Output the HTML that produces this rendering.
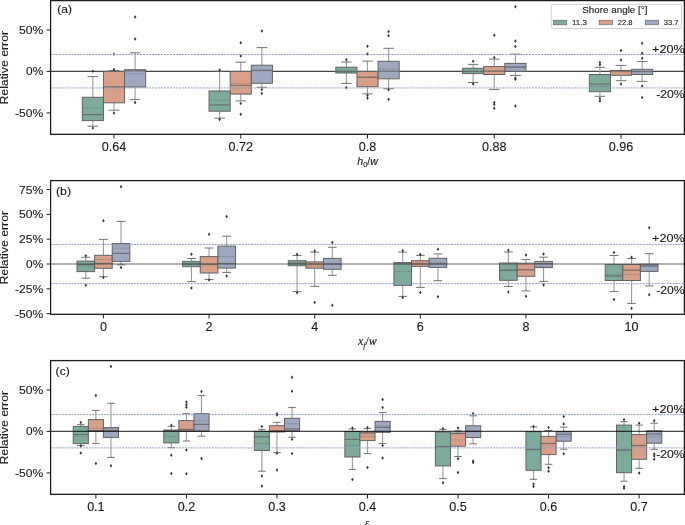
<!DOCTYPE html>
<html><head><meta charset="utf-8"><style>
html,body{margin:0;padding:0;background:#fff;}
body{width:685px;height:525px;overflow:hidden;}
svg{display:block;will-change:transform;}
text{font-family:"Liberation Sans",sans-serif;fill:#1a1a1a;stroke:#1a1a1a;stroke-width:0.12px;}
</style></head><body>
<svg width="685" height="525" viewBox="0 0 685 525">
<rect width="685" height="525" fill="#fff"/>
<line x1="50.6" y1="71.45" x2="684.4" y2="71.45" stroke="#000" stroke-opacity="0.72" stroke-width="1.2"/>
<line x1="92.85" y1="76.6" x2="92.85" y2="97.3" stroke="#9a9a9a" stroke-width="1.1"/>
<line x1="92.85" y1="120.6" x2="92.85" y2="126.2" stroke="#9a9a9a" stroke-width="1.1"/>
<line x1="87.57" y1="76.6" x2="98.13" y2="76.6" stroke="#636363" stroke-width="0.9"/>
<line x1="87.57" y1="126.2" x2="98.13" y2="126.2" stroke="#636363" stroke-width="0.9"/>
<rect x="82.29" y="97.3" width="21.13" height="23.3" fill="#7daa9b" stroke="#636363" stroke-width="1"/>
<line x1="82.29" y1="114.6" x2="103.42" y2="114.6" stroke="#5a5a5a" stroke-width="1.2" stroke-opacity="0.7"/>
<line x1="83.09" y1="108.3" x2="103.42" y2="108.3" stroke="#5a5a5a" stroke-width="0.8" stroke-dasharray="2 1.3" stroke-opacity="0.5"/>
<path d="M92.85 69.55l1.25 1.75l-1.25 1.75l-1.25 -1.75z" fill="#333"/>
<path d="M92.85 126.25l1.25 1.75l-1.25 1.75l-1.25 -1.75z" fill="#333"/>
<line x1="113.98" y1="70.6" x2="113.98" y2="71.4" stroke="#9a9a9a" stroke-width="1.1"/>
<line x1="113.98" y1="102.8" x2="113.98" y2="110.2" stroke="#9a9a9a" stroke-width="1.1"/>
<line x1="108.7" y1="70.6" x2="119.26" y2="70.6" stroke="#636363" stroke-width="0.9"/>
<line x1="108.7" y1="110.2" x2="119.26" y2="110.2" stroke="#636363" stroke-width="0.9"/>
<rect x="103.42" y="71.4" width="21.13" height="31.4" fill="#d8a08a" stroke="#636363" stroke-width="1"/>
<line x1="103.42" y1="86.8" x2="124.54" y2="86.8" stroke="#5a5a5a" stroke-width="1.2" stroke-opacity="0.7"/>
<line x1="104.22" y1="87.5" x2="124.54" y2="87.5" stroke="#5a5a5a" stroke-width="0.8" stroke-dasharray="2 1.3" stroke-opacity="0.5"/>
<path d="M113.98 52.55l1.25 1.75l-1.25 1.75l-1.25 -1.75z" fill="#333"/>
<path d="M113.98 67.85l1.25 1.75l-1.25 1.75l-1.25 -1.75z" fill="#333"/>
<path d="M113.98 111.35l1.25 1.75l-1.25 1.75l-1.25 -1.75z" fill="#333"/>
<line x1="135.11" y1="52.8" x2="135.11" y2="69.7" stroke="#9a9a9a" stroke-width="1.1"/>
<line x1="135.11" y1="87" x2="135.11" y2="99.6" stroke="#9a9a9a" stroke-width="1.1"/>
<line x1="129.82" y1="52.8" x2="140.39" y2="52.8" stroke="#636363" stroke-width="0.9"/>
<line x1="129.82" y1="99.6" x2="140.39" y2="99.6" stroke="#636363" stroke-width="0.9"/>
<rect x="124.54" y="69.7" width="21.13" height="17.3" fill="#9fa8bf" stroke="#636363" stroke-width="1"/>
<line x1="124.54" y1="70.8" x2="145.67" y2="70.8" stroke="#5a5a5a" stroke-width="1.2" stroke-opacity="0.7"/>
<line x1="125.34" y1="73.9" x2="145.67" y2="73.9" stroke="#5a5a5a" stroke-width="0.8" stroke-dasharray="2 1.3" stroke-opacity="0.5"/>
<path d="M135.11 37.25l1.25 1.75l-1.25 1.75l-1.25 -1.75z" fill="#333"/>
<path d="M135.11 15.35l1.25 1.75l-1.25 1.75l-1.25 -1.75z" fill="#333"/>
<path d="M135.11 100.65l1.25 1.75l-1.25 1.75l-1.25 -1.75z" fill="#333"/>
<line x1="219.61" y1="71.3" x2="219.61" y2="91" stroke="#9a9a9a" stroke-width="1.1"/>
<line x1="219.61" y1="111.2" x2="219.61" y2="118.2" stroke="#9a9a9a" stroke-width="1.1"/>
<line x1="214.33" y1="71.3" x2="224.89" y2="71.3" stroke="#636363" stroke-width="0.9"/>
<line x1="214.33" y1="118.2" x2="224.89" y2="118.2" stroke="#636363" stroke-width="0.9"/>
<rect x="209.05" y="91" width="21.13" height="20.2" fill="#7daa9b" stroke="#636363" stroke-width="1"/>
<line x1="209.05" y1="104.9" x2="230.18" y2="104.9" stroke="#5a5a5a" stroke-width="1.2" stroke-opacity="0.7"/>
<line x1="209.85" y1="100.3" x2="230.18" y2="100.3" stroke="#5a5a5a" stroke-width="0.8" stroke-dasharray="2 1.3" stroke-opacity="0.5"/>
<path d="M219.61 68.15l1.25 1.75l-1.25 1.75l-1.25 -1.75z" fill="#333"/>
<path d="M219.61 117.75l1.25 1.75l-1.25 1.75l-1.25 -1.75z" fill="#333"/>
<line x1="240.74" y1="62.2" x2="240.74" y2="71.5" stroke="#9a9a9a" stroke-width="1.1"/>
<line x1="240.74" y1="94.1" x2="240.74" y2="100.9" stroke="#9a9a9a" stroke-width="1.1"/>
<line x1="235.46" y1="62.2" x2="246.02" y2="62.2" stroke="#636363" stroke-width="0.9"/>
<line x1="235.46" y1="100.9" x2="246.02" y2="100.9" stroke="#636363" stroke-width="0.9"/>
<rect x="230.18" y="71.5" width="21.13" height="22.6" fill="#d8a08a" stroke="#636363" stroke-width="1"/>
<line x1="230.18" y1="85.4" x2="251.3" y2="85.4" stroke="#5a5a5a" stroke-width="1.2" stroke-opacity="0.7"/>
<line x1="230.98" y1="83.5" x2="251.3" y2="83.5" stroke="#5a5a5a" stroke-width="0.8" stroke-dasharray="2 1.3" stroke-opacity="0.5"/>
<path d="M240.74 54.15l1.25 1.75l-1.25 1.75l-1.25 -1.75z" fill="#333"/>
<path d="M240.74 41.05l1.25 1.75l-1.25 1.75l-1.25 -1.75z" fill="#333"/>
<path d="M240.74 101.85l1.25 1.75l-1.25 1.75l-1.25 -1.75z" fill="#333"/>
<path d="M240.74 112.45l1.25 1.75l-1.25 1.75l-1.25 -1.75z" fill="#333"/>
<line x1="261.87" y1="47.6" x2="261.87" y2="65.2" stroke="#9a9a9a" stroke-width="1.1"/>
<line x1="261.87" y1="83.3" x2="261.87" y2="87.3" stroke="#9a9a9a" stroke-width="1.1"/>
<line x1="256.59" y1="47.6" x2="267.15" y2="47.6" stroke="#636363" stroke-width="0.9"/>
<line x1="256.59" y1="87.3" x2="267.15" y2="87.3" stroke="#636363" stroke-width="0.9"/>
<rect x="251.3" y="65.2" width="21.13" height="18.1" fill="#9fa8bf" stroke="#636363" stroke-width="1"/>
<line x1="251.3" y1="70.3" x2="272.43" y2="70.3" stroke="#5a5a5a" stroke-width="1.2" stroke-opacity="0.7"/>
<line x1="252.1" y1="70.9" x2="272.43" y2="70.9" stroke="#5a5a5a" stroke-width="0.8" stroke-dasharray="2 1.3" stroke-opacity="0.5"/>
<path d="M261.87 29.15l1.25 1.75l-1.25 1.75l-1.25 -1.75z" fill="#333"/>
<path d="M261.87 87.65l1.25 1.75l-1.25 1.75l-1.25 -1.75z" fill="#333"/>
<path d="M261.87 91.75l1.25 1.75l-1.25 1.75l-1.25 -1.75z" fill="#333"/>
<line x1="346.37" y1="62" x2="346.37" y2="67.2" stroke="#9a9a9a" stroke-width="1.1"/>
<line x1="346.37" y1="73" x2="346.37" y2="83.4" stroke="#9a9a9a" stroke-width="1.1"/>
<line x1="341.09" y1="62" x2="351.65" y2="62" stroke="#636363" stroke-width="0.9"/>
<line x1="341.09" y1="83.4" x2="351.65" y2="83.4" stroke="#636363" stroke-width="0.9"/>
<rect x="335.81" y="67.2" width="21.13" height="5.8" fill="#7daa9b" stroke="#636363" stroke-width="1"/>
<line x1="335.81" y1="71.5" x2="356.94" y2="71.5" stroke="#5a5a5a" stroke-width="1.2" stroke-opacity="0.7"/>
<line x1="336.61" y1="70.7" x2="356.94" y2="70.7" stroke="#5a5a5a" stroke-width="0.8" stroke-dasharray="2 1.3" stroke-opacity="0.5"/>
<path d="M346.37 58.05l1.25 1.75l-1.25 1.75l-1.25 -1.75z" fill="#333"/>
<path d="M346.37 85.75l1.25 1.75l-1.25 1.75l-1.25 -1.75z" fill="#333"/>
<line x1="367.5" y1="61.1" x2="367.5" y2="71.5" stroke="#9a9a9a" stroke-width="1.1"/>
<line x1="367.5" y1="86.7" x2="367.5" y2="93.9" stroke="#9a9a9a" stroke-width="1.1"/>
<line x1="362.22" y1="61.1" x2="372.78" y2="61.1" stroke="#636363" stroke-width="0.9"/>
<line x1="362.22" y1="93.9" x2="372.78" y2="93.9" stroke="#636363" stroke-width="0.9"/>
<rect x="356.94" y="71.5" width="21.13" height="15.2" fill="#d8a08a" stroke="#636363" stroke-width="1"/>
<line x1="356.94" y1="77.3" x2="378.06" y2="77.3" stroke="#5a5a5a" stroke-width="1.2" stroke-opacity="0.7"/>
<line x1="357.74" y1="77" x2="378.06" y2="77" stroke="#5a5a5a" stroke-width="0.8" stroke-dasharray="2 1.3" stroke-opacity="0.5"/>
<path d="M367.5 52.25l1.25 1.75l-1.25 1.75l-1.25 -1.75z" fill="#333"/>
<path d="M367.5 44.55l1.25 1.75l-1.25 1.75l-1.25 -1.75z" fill="#333"/>
<path d="M367.5 93.75l1.25 1.75l-1.25 1.75l-1.25 -1.75z" fill="#333"/>
<path d="M367.5 96.45l1.25 1.75l-1.25 1.75l-1.25 -1.75z" fill="#333"/>
<line x1="388.63" y1="48.3" x2="388.63" y2="61.3" stroke="#9a9a9a" stroke-width="1.1"/>
<line x1="388.63" y1="78.8" x2="388.63" y2="88.7" stroke="#9a9a9a" stroke-width="1.1"/>
<line x1="383.35" y1="48.3" x2="393.91" y2="48.3" stroke="#636363" stroke-width="0.9"/>
<line x1="383.35" y1="88.7" x2="393.91" y2="88.7" stroke="#636363" stroke-width="0.9"/>
<rect x="378.06" y="61.3" width="21.13" height="17.5" fill="#9fa8bf" stroke="#636363" stroke-width="1"/>
<line x1="378.06" y1="71.2" x2="399.19" y2="71.2" stroke="#5a5a5a" stroke-width="1.2" stroke-opacity="0.7"/>
<line x1="378.86" y1="69.2" x2="399.19" y2="69.2" stroke="#5a5a5a" stroke-width="0.8" stroke-dasharray="2 1.3" stroke-opacity="0.5"/>
<path d="M388.63 33.95l1.25 1.75l-1.25 1.75l-1.25 -1.75z" fill="#333"/>
<path d="M388.63 29.65l1.25 1.75l-1.25 1.75l-1.25 -1.75z" fill="#333"/>
<path d="M388.63 88.05l1.25 1.75l-1.25 1.75l-1.25 -1.75z" fill="#333"/>
<path d="M388.63 97.45l1.25 1.75l-1.25 1.75l-1.25 -1.75z" fill="#333"/>
<line x1="473.13" y1="64.4" x2="473.13" y2="68.3" stroke="#9a9a9a" stroke-width="1.1"/>
<line x1="473.13" y1="73.6" x2="473.13" y2="82.5" stroke="#9a9a9a" stroke-width="1.1"/>
<line x1="467.85" y1="64.4" x2="478.41" y2="64.4" stroke="#636363" stroke-width="0.9"/>
<line x1="467.85" y1="82.5" x2="478.41" y2="82.5" stroke="#636363" stroke-width="0.9"/>
<rect x="462.57" y="68.3" width="21.13" height="5.3" fill="#7daa9b" stroke="#636363" stroke-width="1"/>
<line x1="462.57" y1="71.45" x2="483.7" y2="71.45" stroke="#5a5a5a" stroke-width="1.2" stroke-opacity="0.7"/>
<line x1="463.37" y1="71.3" x2="483.7" y2="71.3" stroke="#5a5a5a" stroke-width="0.8" stroke-dasharray="2 1.3" stroke-opacity="0.5"/>
<path d="M473.13 59.55l1.25 1.75l-1.25 1.75l-1.25 -1.75z" fill="#333"/>
<path d="M473.13 82.15l1.25 1.75l-1.25 1.75l-1.25 -1.75z" fill="#333"/>
<line x1="494.26" y1="59.1" x2="494.26" y2="66.6" stroke="#9a9a9a" stroke-width="1.1"/>
<line x1="494.26" y1="74.5" x2="494.26" y2="89.4" stroke="#9a9a9a" stroke-width="1.1"/>
<line x1="488.98" y1="59.1" x2="499.54" y2="59.1" stroke="#636363" stroke-width="0.9"/>
<line x1="488.98" y1="89.4" x2="499.54" y2="89.4" stroke="#636363" stroke-width="0.9"/>
<rect x="483.7" y="66.6" width="21.13" height="7.9" fill="#d8a08a" stroke="#636363" stroke-width="1"/>
<line x1="483.7" y1="71.3" x2="504.82" y2="71.3" stroke="#5a5a5a" stroke-width="1.2" stroke-opacity="0.7"/>
<line x1="484.5" y1="70.4" x2="504.82" y2="70.4" stroke="#5a5a5a" stroke-width="0.8" stroke-dasharray="2 1.3" stroke-opacity="0.5"/>
<path d="M494.26 55.85l1.25 1.75l-1.25 1.75l-1.25 -1.75z" fill="#333"/>
<path d="M494.26 33.45l1.25 1.75l-1.25 1.75l-1.25 -1.75z" fill="#333"/>
<path d="M494.26 100.85l1.25 1.75l-1.25 1.75l-1.25 -1.75z" fill="#333"/>
<path d="M494.26 102.75l1.25 1.75l-1.25 1.75l-1.25 -1.75z" fill="#333"/>
<path d="M494.26 106.55l1.25 1.75l-1.25 1.75l-1.25 -1.75z" fill="#333"/>
<line x1="515.39" y1="54.1" x2="515.39" y2="63.4" stroke="#9a9a9a" stroke-width="1.1"/>
<line x1="515.39" y1="71.3" x2="515.39" y2="75.5" stroke="#9a9a9a" stroke-width="1.1"/>
<line x1="510.11" y1="54.1" x2="520.67" y2="54.1" stroke="#636363" stroke-width="0.9"/>
<line x1="510.11" y1="75.5" x2="520.67" y2="75.5" stroke="#636363" stroke-width="0.9"/>
<rect x="504.82" y="63.4" width="21.13" height="7.9" fill="#9fa8bf" stroke="#636363" stroke-width="1"/>
<line x1="504.82" y1="67.3" x2="525.95" y2="67.3" stroke="#5a5a5a" stroke-width="1.2" stroke-opacity="0.7"/>
<line x1="505.62" y1="66.4" x2="525.95" y2="66.4" stroke="#5a5a5a" stroke-width="0.8" stroke-dasharray="2 1.3" stroke-opacity="0.5"/>
<path d="M515.39 44.75l1.25 1.75l-1.25 1.75l-1.25 -1.75z" fill="#333"/>
<path d="M515.39 39.25l1.25 1.75l-1.25 1.75l-1.25 -1.75z" fill="#333"/>
<path d="M515.39 4.95l1.25 1.75l-1.25 1.75l-1.25 -1.75z" fill="#333"/>
<path d="M515.39 76.25l1.25 1.75l-1.25 1.75l-1.25 -1.75z" fill="#333"/>
<path d="M515.39 77.45l1.25 1.75l-1.25 1.75l-1.25 -1.75z" fill="#333"/>
<path d="M515.39 104.25l1.25 1.75l-1.25 1.75l-1.25 -1.75z" fill="#333"/>
<line x1="599.89" y1="67.3" x2="599.89" y2="74.5" stroke="#9a9a9a" stroke-width="1.1"/>
<line x1="599.89" y1="91.7" x2="599.89" y2="96.3" stroke="#9a9a9a" stroke-width="1.1"/>
<line x1="594.61" y1="67.3" x2="605.17" y2="67.3" stroke="#636363" stroke-width="0.9"/>
<line x1="594.61" y1="96.3" x2="605.17" y2="96.3" stroke="#636363" stroke-width="0.9"/>
<rect x="589.33" y="74.5" width="21.13" height="17.2" fill="#7daa9b" stroke="#636363" stroke-width="1"/>
<line x1="589.33" y1="84.1" x2="610.46" y2="84.1" stroke="#5a5a5a" stroke-width="1.2" stroke-opacity="0.7"/>
<line x1="590.13" y1="86.5" x2="610.46" y2="86.5" stroke="#5a5a5a" stroke-width="0.8" stroke-dasharray="2 1.3" stroke-opacity="0.5"/>
<path d="M599.89 62.95l1.25 1.75l-1.25 1.75l-1.25 -1.75z" fill="#333"/>
<path d="M599.89 60.75l1.25 1.75l-1.25 1.75l-1.25 -1.75z" fill="#333"/>
<path d="M599.89 96.85l1.25 1.75l-1.25 1.75l-1.25 -1.75z" fill="#333"/>
<path d="M599.89 99.15l1.25 1.75l-1.25 1.75l-1.25 -1.75z" fill="#333"/>
<line x1="621.02" y1="65.4" x2="621.02" y2="70.4" stroke="#9a9a9a" stroke-width="1.1"/>
<line x1="621.02" y1="75.3" x2="621.02" y2="80.7" stroke="#9a9a9a" stroke-width="1.1"/>
<line x1="615.74" y1="65.4" x2="626.3" y2="65.4" stroke="#636363" stroke-width="0.9"/>
<line x1="615.74" y1="80.7" x2="626.3" y2="80.7" stroke="#636363" stroke-width="0.9"/>
<rect x="610.46" y="70.4" width="21.13" height="4.9" fill="#d8a08a" stroke="#636363" stroke-width="1"/>
<line x1="610.46" y1="71.1" x2="631.58" y2="71.1" stroke="#5a5a5a" stroke-width="1.2" stroke-opacity="0.7"/>
<line x1="611.26" y1="71.8" x2="631.58" y2="71.8" stroke="#5a5a5a" stroke-width="0.8" stroke-dasharray="2 1.3" stroke-opacity="0.5"/>
<path d="M621.02 58.25l1.25 1.75l-1.25 1.75l-1.25 -1.75z" fill="#333"/>
<path d="M621.02 48.85l1.25 1.75l-1.25 1.75l-1.25 -1.75z" fill="#333"/>
<path d="M621.02 82.35l1.25 1.75l-1.25 1.75l-1.25 -1.75z" fill="#333"/>
<line x1="642.15" y1="61.5" x2="642.15" y2="69.3" stroke="#9a9a9a" stroke-width="1.1"/>
<line x1="642.15" y1="74.5" x2="642.15" y2="81.4" stroke="#9a9a9a" stroke-width="1.1"/>
<line x1="636.87" y1="61.5" x2="647.43" y2="61.5" stroke="#636363" stroke-width="0.9"/>
<line x1="636.87" y1="81.4" x2="647.43" y2="81.4" stroke="#636363" stroke-width="0.9"/>
<rect x="631.58" y="69.3" width="21.13" height="5.2" fill="#9fa8bf" stroke="#636363" stroke-width="1"/>
<line x1="631.58" y1="71.6" x2="652.71" y2="71.6" stroke="#5a5a5a" stroke-width="1.2" stroke-opacity="0.7"/>
<line x1="632.38" y1="70.8" x2="652.71" y2="70.8" stroke="#5a5a5a" stroke-width="0.8" stroke-dasharray="2 1.3" stroke-opacity="0.5"/>
<path d="M642.15 56.45l1.25 1.75l-1.25 1.75l-1.25 -1.75z" fill="#333"/>
<path d="M642.15 51.45l1.25 1.75l-1.25 1.75l-1.25 -1.75z" fill="#333"/>
<path d="M642.15 41.55l1.25 1.75l-1.25 1.75l-1.25 -1.75z" fill="#333"/>
<path d="M642.15 84.15l1.25 1.75l-1.25 1.75l-1.25 -1.75z" fill="#333"/>
<path d="M642.15 95.65l1.25 1.75l-1.25 1.75l-1.25 -1.75z" fill="#333"/>
<line x1="50.6" y1="54.5" x2="684.4" y2="54.5" stroke="#8e9dc0" stroke-width="1.0" stroke-dasharray="1.95 1.042" stroke-dashoffset="0.27"/>
<line x1="50.6" y1="87.95" x2="684.4" y2="87.95" stroke="#8e9dc0" stroke-width="1.0" stroke-dasharray="1.95 1.042" stroke-dashoffset="0.27"/>
<rect x="50.6" y="0.6" width="633.8" height="133.7" fill="none" stroke="#1c1c1c" stroke-width="1.3"/>
<line x1="46.6" y1="30.03" x2="50.6" y2="30.03" stroke="#1c1c1c" stroke-width="1"/>
<text x="43.2" y="34.03" font-size="11.3" text-anchor="end" textLength="24.15" lengthAdjust="spacingAndGlyphs">50%</text>
<line x1="46.6" y1="71.45" x2="50.6" y2="71.45" stroke="#1c1c1c" stroke-width="1"/>
<text x="43.2" y="75.45" font-size="11.3" text-anchor="end" textLength="17.15" lengthAdjust="spacingAndGlyphs">0%</text>
<line x1="46.6" y1="112.88" x2="50.6" y2="112.88" stroke="#1c1c1c" stroke-width="1"/>
<text x="43.2" y="116.88" font-size="11.3" text-anchor="end" textLength="28.12" lengthAdjust="spacingAndGlyphs">-50%</text>
<line x1="113.98" y1="134.3" x2="113.98" y2="138.5" stroke="#1c1c1c" stroke-width="1"/>
<text x="113.98" y="150.5" font-size="11.9" text-anchor="middle" textLength="24.49" lengthAdjust="spacingAndGlyphs">0.64</text>
<line x1="240.74" y1="134.3" x2="240.74" y2="138.5" stroke="#1c1c1c" stroke-width="1"/>
<text x="240.74" y="150.5" font-size="11.9" text-anchor="middle" textLength="24.49" lengthAdjust="spacingAndGlyphs">0.72</text>
<line x1="367.5" y1="134.3" x2="367.5" y2="138.5" stroke="#1c1c1c" stroke-width="1"/>
<text x="367.5" y="150.5" font-size="11.9" text-anchor="middle" textLength="17.49" lengthAdjust="spacingAndGlyphs">0.8</text>
<line x1="494.26" y1="134.3" x2="494.26" y2="138.5" stroke="#1c1c1c" stroke-width="1"/>
<text x="494.26" y="150.5" font-size="11.9" text-anchor="middle" textLength="24.49" lengthAdjust="spacingAndGlyphs">0.88</text>
<line x1="621.02" y1="134.3" x2="621.02" y2="138.5" stroke="#1c1c1c" stroke-width="1"/>
<text x="621.02" y="150.5" font-size="11.9" text-anchor="middle" textLength="24.49" lengthAdjust="spacingAndGlyphs">0.96</text>
<text x="57.2" y="13" font-size="11.2" text-anchor="start" textLength="14.82" lengthAdjust="spacingAndGlyphs">(a)</text>
<text x="684.7" y="52.58" font-size="11.3" text-anchor="end" textLength="32.67" lengthAdjust="spacingAndGlyphs">+20%</text>
<text x="684.7" y="98.32" font-size="11.3" text-anchor="end" textLength="28.42" lengthAdjust="spacingAndGlyphs">-20%</text>
<text transform="translate(8.4 67.75) rotate(-90)" font-size="11.1" text-anchor="middle" textLength="73.6" lengthAdjust="spacingAndGlyphs">Relative error</text>
<line x1="85.81" y1="257.3" x2="85.81" y2="261.1" stroke="#9a9a9a" stroke-width="1.1"/>
<line x1="85.81" y1="271.6" x2="85.81" y2="278.2" stroke="#9a9a9a" stroke-width="1.1"/>
<line x1="81.41" y1="257.3" x2="90.21" y2="257.3" stroke="#636363" stroke-width="0.9"/>
<line x1="81.41" y1="278.2" x2="90.21" y2="278.2" stroke="#636363" stroke-width="0.9"/>
<rect x="77.01" y="261.1" width="17.61" height="10.5" fill="#7daa9b" stroke="#636363" stroke-width="1"/>
<line x1="77.01" y1="264.5" x2="94.61" y2="264.5" stroke="#5a5a5a" stroke-width="1.2" stroke-opacity="0.7"/>
<line x1="77.81" y1="266" x2="94.61" y2="266" stroke="#5a5a5a" stroke-width="0.8" stroke-dasharray="2 1.3" stroke-opacity="0.5"/>
<path d="M85.81 254.05l1.25 1.75l-1.25 1.75l-1.25 -1.75z" fill="#333"/>
<path d="M85.81 283.55l1.25 1.75l-1.25 1.75l-1.25 -1.75z" fill="#333"/>
<line x1="103.42" y1="239.4" x2="103.42" y2="255.3" stroke="#9a9a9a" stroke-width="1.1"/>
<line x1="103.42" y1="268.3" x2="103.42" y2="276.7" stroke="#9a9a9a" stroke-width="1.1"/>
<line x1="99.02" y1="239.4" x2="107.82" y2="239.4" stroke="#636363" stroke-width="0.9"/>
<line x1="99.02" y1="276.7" x2="107.82" y2="276.7" stroke="#636363" stroke-width="0.9"/>
<rect x="94.61" y="255.3" width="17.61" height="13" fill="#d8a08a" stroke="#636363" stroke-width="1"/>
<line x1="94.61" y1="263.4" x2="112.22" y2="263.4" stroke="#5a5a5a" stroke-width="1.2" stroke-opacity="0.7"/>
<line x1="95.41" y1="259.5" x2="112.22" y2="259.5" stroke="#5a5a5a" stroke-width="0.8" stroke-dasharray="2 1.3" stroke-opacity="0.5"/>
<path d="M103.42 219.05l1.25 1.75l-1.25 1.75l-1.25 -1.75z" fill="#333"/>
<path d="M103.42 275.65l1.25 1.75l-1.25 1.75l-1.25 -1.75z" fill="#333"/>
<line x1="121.02" y1="221.4" x2="121.02" y2="243.6" stroke="#9a9a9a" stroke-width="1.1"/>
<line x1="121.02" y1="261.4" x2="121.02" y2="264.8" stroke="#9a9a9a" stroke-width="1.1"/>
<line x1="116.62" y1="221.4" x2="125.42" y2="221.4" stroke="#636363" stroke-width="0.9"/>
<line x1="116.62" y1="264.8" x2="125.42" y2="264.8" stroke="#636363" stroke-width="0.9"/>
<rect x="112.22" y="243.6" width="17.61" height="17.8" fill="#9fa8bf" stroke="#636363" stroke-width="1"/>
<line x1="112.22" y1="253.4" x2="129.82" y2="253.4" stroke="#5a5a5a" stroke-width="1.2" stroke-opacity="0.7"/>
<line x1="113.02" y1="248.2" x2="129.82" y2="248.2" stroke="#5a5a5a" stroke-width="0.8" stroke-dasharray="2 1.3" stroke-opacity="0.5"/>
<path d="M121.02 184.95l1.25 1.75l-1.25 1.75l-1.25 -1.75z" fill="#333"/>
<path d="M121.02 265.75l1.25 1.75l-1.25 1.75l-1.25 -1.75z" fill="#333"/>
<line x1="191.44" y1="258.5" x2="191.44" y2="261.4" stroke="#9a9a9a" stroke-width="1.1"/>
<line x1="191.44" y1="266.7" x2="191.44" y2="281.6" stroke="#9a9a9a" stroke-width="1.1"/>
<line x1="187.04" y1="258.5" x2="195.85" y2="258.5" stroke="#636363" stroke-width="0.9"/>
<line x1="187.04" y1="281.6" x2="195.85" y2="281.6" stroke="#636363" stroke-width="0.9"/>
<rect x="182.64" y="261.4" width="17.61" height="5.3" fill="#7daa9b" stroke="#636363" stroke-width="1"/>
<line x1="182.64" y1="264" x2="200.25" y2="264" stroke="#5a5a5a" stroke-width="1.2" stroke-opacity="0.7"/>
<line x1="183.44" y1="264.4" x2="200.25" y2="264.4" stroke="#5a5a5a" stroke-width="0.8" stroke-dasharray="2 1.3" stroke-opacity="0.5"/>
<path d="M191.44 252.55l1.25 1.75l-1.25 1.75l-1.25 -1.75z" fill="#333"/>
<path d="M191.44 286.35l1.25 1.75l-1.25 1.75l-1.25 -1.75z" fill="#333"/>
<line x1="209.05" y1="248" x2="209.05" y2="256.6" stroke="#9a9a9a" stroke-width="1.1"/>
<line x1="209.05" y1="273" x2="209.05" y2="279.5" stroke="#9a9a9a" stroke-width="1.1"/>
<line x1="204.65" y1="248" x2="213.45" y2="248" stroke="#636363" stroke-width="0.9"/>
<line x1="204.65" y1="279.5" x2="213.45" y2="279.5" stroke="#636363" stroke-width="0.9"/>
<rect x="200.25" y="256.6" width="17.61" height="16.4" fill="#d8a08a" stroke="#636363" stroke-width="1"/>
<line x1="200.25" y1="264.2" x2="217.85" y2="264.2" stroke="#5a5a5a" stroke-width="1.2" stroke-opacity="0.7"/>
<line x1="201.05" y1="264.8" x2="217.85" y2="264.8" stroke="#5a5a5a" stroke-width="0.8" stroke-dasharray="2 1.3" stroke-opacity="0.5"/>
<path d="M209.05 232.55l1.25 1.75l-1.25 1.75l-1.25 -1.75z" fill="#333"/>
<path d="M209.05 278.25l1.25 1.75l-1.25 1.75l-1.25 -1.75z" fill="#333"/>
<line x1="226.66" y1="236.2" x2="226.66" y2="246.1" stroke="#9a9a9a" stroke-width="1.1"/>
<line x1="226.66" y1="268.1" x2="226.66" y2="272.4" stroke="#9a9a9a" stroke-width="1.1"/>
<line x1="222.25" y1="236.2" x2="231.06" y2="236.2" stroke="#636363" stroke-width="0.9"/>
<line x1="222.25" y1="272.4" x2="231.06" y2="272.4" stroke="#636363" stroke-width="0.9"/>
<rect x="217.85" y="246.1" width="17.61" height="22" fill="#9fa8bf" stroke="#636363" stroke-width="1"/>
<line x1="217.85" y1="263.5" x2="235.46" y2="263.5" stroke="#5a5a5a" stroke-width="1.2" stroke-opacity="0.7"/>
<line x1="218.65" y1="256.6" x2="235.46" y2="256.6" stroke="#5a5a5a" stroke-width="0.8" stroke-dasharray="2 1.3" stroke-opacity="0.5"/>
<path d="M226.66 214.85l1.25 1.75l-1.25 1.75l-1.25 -1.75z" fill="#333"/>
<path d="M226.66 274.15l1.25 1.75l-1.25 1.75l-1.25 -1.75z" fill="#333"/>
<line x1="297.08" y1="255.5" x2="297.08" y2="260.7" stroke="#9a9a9a" stroke-width="1.1"/>
<line x1="297.08" y1="265.7" x2="297.08" y2="291.6" stroke="#9a9a9a" stroke-width="1.1"/>
<line x1="292.68" y1="255.5" x2="301.48" y2="255.5" stroke="#636363" stroke-width="0.9"/>
<line x1="292.68" y1="291.6" x2="301.48" y2="291.6" stroke="#636363" stroke-width="0.9"/>
<rect x="288.27" y="260.7" width="17.61" height="5" fill="#7daa9b" stroke="#636363" stroke-width="1"/>
<line x1="288.27" y1="263.1" x2="305.88" y2="263.1" stroke="#5a5a5a" stroke-width="1.2" stroke-opacity="0.7"/>
<line x1="289.07" y1="263.9" x2="305.88" y2="263.9" stroke="#5a5a5a" stroke-width="0.8" stroke-dasharray="2 1.3" stroke-opacity="0.5"/>
<path d="M297.08 252.45l1.25 1.75l-1.25 1.75l-1.25 -1.75z" fill="#333"/>
<path d="M297.08 291.05l1.25 1.75l-1.25 1.75l-1.25 -1.75z" fill="#333"/>
<line x1="314.68" y1="252.1" x2="314.68" y2="261.9" stroke="#9a9a9a" stroke-width="1.1"/>
<line x1="314.68" y1="268.2" x2="314.68" y2="286.4" stroke="#9a9a9a" stroke-width="1.1"/>
<line x1="310.28" y1="252.1" x2="319.08" y2="252.1" stroke="#636363" stroke-width="0.9"/>
<line x1="310.28" y1="286.4" x2="319.08" y2="286.4" stroke="#636363" stroke-width="0.9"/>
<rect x="305.88" y="261.9" width="17.61" height="6.3" fill="#d8a08a" stroke="#636363" stroke-width="1"/>
<line x1="305.88" y1="264.1" x2="323.49" y2="264.1" stroke="#5a5a5a" stroke-width="1.2" stroke-opacity="0.7"/>
<line x1="306.68" y1="266.2" x2="323.49" y2="266.2" stroke="#5a5a5a" stroke-width="0.8" stroke-dasharray="2 1.3" stroke-opacity="0.5"/>
<path d="M314.68 249.35l1.25 1.75l-1.25 1.75l-1.25 -1.75z" fill="#333"/>
<path d="M314.68 300.75l1.25 1.75l-1.25 1.75l-1.25 -1.75z" fill="#333"/>
<line x1="332.29" y1="247.3" x2="332.29" y2="258.4" stroke="#9a9a9a" stroke-width="1.1"/>
<line x1="332.29" y1="269.3" x2="332.29" y2="275.3" stroke="#9a9a9a" stroke-width="1.1"/>
<line x1="327.89" y1="247.3" x2="336.69" y2="247.3" stroke="#636363" stroke-width="0.9"/>
<line x1="327.89" y1="275.3" x2="336.69" y2="275.3" stroke="#636363" stroke-width="0.9"/>
<rect x="323.49" y="258.4" width="17.61" height="10.9" fill="#9fa8bf" stroke="#636363" stroke-width="1"/>
<line x1="323.49" y1="264.1" x2="341.09" y2="264.1" stroke="#5a5a5a" stroke-width="1.2" stroke-opacity="0.7"/>
<line x1="324.29" y1="263.6" x2="341.09" y2="263.6" stroke="#5a5a5a" stroke-width="0.8" stroke-dasharray="2 1.3" stroke-opacity="0.5"/>
<path d="M332.29 240.75l1.25 1.75l-1.25 1.75l-1.25 -1.75z" fill="#333"/>
<path d="M332.29 303.55l1.25 1.75l-1.25 1.75l-1.25 -1.75z" fill="#333"/>
<line x1="402.71" y1="252.1" x2="402.71" y2="262.6" stroke="#9a9a9a" stroke-width="1.1"/>
<line x1="402.71" y1="285.4" x2="402.71" y2="296.4" stroke="#9a9a9a" stroke-width="1.1"/>
<line x1="398.31" y1="252.1" x2="407.11" y2="252.1" stroke="#636363" stroke-width="0.9"/>
<line x1="398.31" y1="296.4" x2="407.11" y2="296.4" stroke="#636363" stroke-width="0.9"/>
<rect x="393.91" y="262.6" width="17.61" height="22.8" fill="#7daa9b" stroke="#636363" stroke-width="1"/>
<line x1="393.91" y1="263.9" x2="411.51" y2="263.9" stroke="#5a5a5a" stroke-width="1.2" stroke-opacity="0.7"/>
<line x1="394.71" y1="271.7" x2="411.51" y2="271.7" stroke="#5a5a5a" stroke-width="0.8" stroke-dasharray="2 1.3" stroke-opacity="0.5"/>
<path d="M402.71 248.95l1.25 1.75l-1.25 1.75l-1.25 -1.75z" fill="#333"/>
<path d="M402.71 295.65l1.25 1.75l-1.25 1.75l-1.25 -1.75z" fill="#333"/>
<line x1="420.32" y1="255.4" x2="420.32" y2="260.7" stroke="#9a9a9a" stroke-width="1.1"/>
<line x1="420.32" y1="266.4" x2="420.32" y2="287.4" stroke="#9a9a9a" stroke-width="1.1"/>
<line x1="415.92" y1="255.4" x2="424.72" y2="255.4" stroke="#636363" stroke-width="0.9"/>
<line x1="415.92" y1="287.4" x2="424.72" y2="287.4" stroke="#636363" stroke-width="0.9"/>
<rect x="411.51" y="260.7" width="17.61" height="5.7" fill="#d8a08a" stroke="#636363" stroke-width="1"/>
<line x1="411.51" y1="264" x2="429.12" y2="264" stroke="#5a5a5a" stroke-width="1.2" stroke-opacity="0.7"/>
<line x1="412.31" y1="263.1" x2="429.12" y2="263.1" stroke="#5a5a5a" stroke-width="0.8" stroke-dasharray="2 1.3" stroke-opacity="0.5"/>
<path d="M420.32 252.85l1.25 1.75l-1.25 1.75l-1.25 -1.75z" fill="#333"/>
<path d="M420.32 290.65l1.25 1.75l-1.25 1.75l-1.25 -1.75z" fill="#333"/>
<line x1="437.92" y1="253.9" x2="437.92" y2="258.3" stroke="#9a9a9a" stroke-width="1.1"/>
<line x1="437.92" y1="267.4" x2="437.92" y2="280.7" stroke="#9a9a9a" stroke-width="1.1"/>
<line x1="433.52" y1="253.9" x2="442.32" y2="253.9" stroke="#636363" stroke-width="0.9"/>
<line x1="433.52" y1="280.7" x2="442.32" y2="280.7" stroke="#636363" stroke-width="0.9"/>
<rect x="429.12" y="258.3" width="17.61" height="9.1" fill="#9fa8bf" stroke="#636363" stroke-width="1"/>
<line x1="429.12" y1="263.9" x2="446.73" y2="263.9" stroke="#5a5a5a" stroke-width="1.2" stroke-opacity="0.7"/>
<line x1="429.92" y1="262.6" x2="446.73" y2="262.6" stroke="#5a5a5a" stroke-width="0.8" stroke-dasharray="2 1.3" stroke-opacity="0.5"/>
<path d="M437.92 247.55l1.25 1.75l-1.25 1.75l-1.25 -1.75z" fill="#333"/>
<path d="M437.92 294.95l1.25 1.75l-1.25 1.75l-1.25 -1.75z" fill="#333"/>
<line x1="508.34" y1="252" x2="508.34" y2="263" stroke="#9a9a9a" stroke-width="1.1"/>
<line x1="508.34" y1="280.3" x2="508.34" y2="286.5" stroke="#9a9a9a" stroke-width="1.1"/>
<line x1="503.94" y1="252" x2="512.75" y2="252" stroke="#636363" stroke-width="0.9"/>
<line x1="503.94" y1="286.5" x2="512.75" y2="286.5" stroke="#636363" stroke-width="0.9"/>
<rect x="499.54" y="263" width="17.61" height="17.3" fill="#7daa9b" stroke="#636363" stroke-width="1"/>
<line x1="499.54" y1="270.3" x2="517.15" y2="270.3" stroke="#5a5a5a" stroke-width="1.2" stroke-opacity="0.7"/>
<line x1="500.34" y1="269.9" x2="517.15" y2="269.9" stroke="#5a5a5a" stroke-width="0.8" stroke-dasharray="2 1.3" stroke-opacity="0.5"/>
<path d="M508.34 248.55l1.25 1.75l-1.25 1.75l-1.25 -1.75z" fill="#333"/>
<path d="M508.34 290.25l1.25 1.75l-1.25 1.75l-1.25 -1.75z" fill="#333"/>
<line x1="525.95" y1="259.6" x2="525.95" y2="263.2" stroke="#9a9a9a" stroke-width="1.1"/>
<line x1="525.95" y1="276.3" x2="525.95" y2="290.9" stroke="#9a9a9a" stroke-width="1.1"/>
<line x1="521.55" y1="259.6" x2="530.35" y2="259.6" stroke="#636363" stroke-width="0.9"/>
<line x1="521.55" y1="290.9" x2="530.35" y2="290.9" stroke="#636363" stroke-width="0.9"/>
<rect x="517.15" y="263.2" width="17.61" height="13.1" fill="#d8a08a" stroke="#636363" stroke-width="1"/>
<line x1="517.15" y1="269.9" x2="534.75" y2="269.9" stroke="#5a5a5a" stroke-width="1.2" stroke-opacity="0.7"/>
<line x1="517.95" y1="269.6" x2="534.75" y2="269.6" stroke="#5a5a5a" stroke-width="0.8" stroke-dasharray="2 1.3" stroke-opacity="0.5"/>
<path d="M525.95 253.25l1.25 1.75l-1.25 1.75l-1.25 -1.75z" fill="#333"/>
<path d="M525.95 294.55l1.25 1.75l-1.25 1.75l-1.25 -1.75z" fill="#333"/>
<line x1="543.56" y1="257.2" x2="543.56" y2="261.4" stroke="#9a9a9a" stroke-width="1.1"/>
<line x1="543.56" y1="267.6" x2="543.56" y2="281.4" stroke="#9a9a9a" stroke-width="1.1"/>
<line x1="539.15" y1="257.2" x2="547.96" y2="257.2" stroke="#636363" stroke-width="0.9"/>
<line x1="539.15" y1="281.4" x2="547.96" y2="281.4" stroke="#636363" stroke-width="0.9"/>
<rect x="534.75" y="261.4" width="17.61" height="6.2" fill="#9fa8bf" stroke="#636363" stroke-width="1"/>
<line x1="534.75" y1="263.6" x2="552.36" y2="263.6" stroke="#5a5a5a" stroke-width="1.2" stroke-opacity="0.7"/>
<line x1="535.55" y1="266.6" x2="552.36" y2="266.6" stroke="#5a5a5a" stroke-width="0.8" stroke-dasharray="2 1.3" stroke-opacity="0.5"/>
<path d="M543.56 252.25l1.25 1.75l-1.25 1.75l-1.25 -1.75z" fill="#333"/>
<path d="M543.56 283.25l1.25 1.75l-1.25 1.75l-1.25 -1.75z" fill="#333"/>
<line x1="613.98" y1="255.5" x2="613.98" y2="264.5" stroke="#9a9a9a" stroke-width="1.1"/>
<line x1="613.98" y1="280.5" x2="613.98" y2="291.6" stroke="#9a9a9a" stroke-width="1.1"/>
<line x1="609.58" y1="255.5" x2="618.38" y2="255.5" stroke="#636363" stroke-width="0.9"/>
<line x1="609.58" y1="291.6" x2="618.38" y2="291.6" stroke="#636363" stroke-width="0.9"/>
<rect x="605.18" y="264.5" width="17.61" height="16" fill="#7daa9b" stroke="#636363" stroke-width="1"/>
<line x1="605.18" y1="276" x2="622.78" y2="276" stroke="#5a5a5a" stroke-width="1.2" stroke-opacity="0.7"/>
<line x1="605.98" y1="274.5" x2="622.78" y2="274.5" stroke="#5a5a5a" stroke-width="0.8" stroke-dasharray="2 1.3" stroke-opacity="0.5"/>
<path d="M613.98 250.75l1.25 1.75l-1.25 1.75l-1.25 -1.75z" fill="#333"/>
<path d="M613.98 297.85l1.25 1.75l-1.25 1.75l-1.25 -1.75z" fill="#333"/>
<line x1="631.58" y1="258.5" x2="631.58" y2="264.5" stroke="#9a9a9a" stroke-width="1.1"/>
<line x1="631.58" y1="280.5" x2="631.58" y2="303.4" stroke="#9a9a9a" stroke-width="1.1"/>
<line x1="627.18" y1="258.5" x2="635.98" y2="258.5" stroke="#636363" stroke-width="0.9"/>
<line x1="627.18" y1="303.4" x2="635.98" y2="303.4" stroke="#636363" stroke-width="0.9"/>
<rect x="622.78" y="264.5" width="17.61" height="16" fill="#d8a08a" stroke="#636363" stroke-width="1"/>
<line x1="622.78" y1="270.2" x2="640.39" y2="270.2" stroke="#5a5a5a" stroke-width="1.2" stroke-opacity="0.7"/>
<line x1="623.58" y1="274.5" x2="640.39" y2="274.5" stroke="#5a5a5a" stroke-width="0.8" stroke-dasharray="2 1.3" stroke-opacity="0.5"/>
<path d="M631.58 255.55l1.25 1.75l-1.25 1.75l-1.25 -1.75z" fill="#333"/>
<path d="M631.58 306.45l1.25 1.75l-1.25 1.75l-1.25 -1.75z" fill="#333"/>
<line x1="649.19" y1="253.7" x2="649.19" y2="264.2" stroke="#9a9a9a" stroke-width="1.1"/>
<line x1="649.19" y1="271.4" x2="649.19" y2="285.9" stroke="#9a9a9a" stroke-width="1.1"/>
<line x1="644.79" y1="253.7" x2="653.59" y2="253.7" stroke="#636363" stroke-width="0.9"/>
<line x1="644.79" y1="285.9" x2="653.59" y2="285.9" stroke="#636363" stroke-width="0.9"/>
<rect x="640.39" y="264.2" width="17.61" height="7.2" fill="#9fa8bf" stroke="#636363" stroke-width="1"/>
<line x1="640.39" y1="265.9" x2="657.99" y2="265.9" stroke="#5a5a5a" stroke-width="1.2" stroke-opacity="0.7"/>
<line x1="641.19" y1="266.6" x2="657.99" y2="266.6" stroke="#5a5a5a" stroke-width="0.8" stroke-dasharray="2 1.3" stroke-opacity="0.5"/>
<path d="M649.19 225.95l1.25 1.75l-1.25 1.75l-1.25 -1.75z" fill="#333"/>
<path d="M649.19 293.05l1.25 1.75l-1.25 1.75l-1.25 -1.75z" fill="#333"/>
<line x1="50.6" y1="264" x2="684.4" y2="264" stroke="#4a4a4a" stroke-opacity="0.58" stroke-width="1.5"/>
<line x1="50.6" y1="244.45" x2="684.4" y2="244.45" stroke="#8e9dc0" stroke-width="1.0" stroke-dasharray="1.95 1.042" stroke-dashoffset="0.27"/>
<line x1="50.6" y1="283.6" x2="684.4" y2="283.6" stroke="#8e9dc0" stroke-width="1.0" stroke-dasharray="1.95 1.042" stroke-dashoffset="0.27"/>
<rect x="50.6" y="180.6" width="633.8" height="133.7" fill="none" stroke="#1c1c1c" stroke-width="1.3"/>
<line x1="46.6" y1="189.5" x2="50.6" y2="189.5" stroke="#1c1c1c" stroke-width="1"/>
<text x="43.2" y="193.5" font-size="11.3" text-anchor="end" textLength="24.15" lengthAdjust="spacingAndGlyphs">75%</text>
<line x1="46.6" y1="214.34" x2="50.6" y2="214.34" stroke="#1c1c1c" stroke-width="1"/>
<text x="43.2" y="218.34" font-size="11.3" text-anchor="end" textLength="24.15" lengthAdjust="spacingAndGlyphs">50%</text>
<line x1="46.6" y1="239.17" x2="50.6" y2="239.17" stroke="#1c1c1c" stroke-width="1"/>
<text x="43.2" y="243.17" font-size="11.3" text-anchor="end" textLength="24.15" lengthAdjust="spacingAndGlyphs">25%</text>
<line x1="46.6" y1="264" x2="50.6" y2="264" stroke="#1c1c1c" stroke-width="1"/>
<text x="43.2" y="268" font-size="11.3" text-anchor="end" textLength="17.15" lengthAdjust="spacingAndGlyphs">0%</text>
<line x1="46.6" y1="288.83" x2="50.6" y2="288.83" stroke="#1c1c1c" stroke-width="1"/>
<text x="43.2" y="292.83" font-size="11.3" text-anchor="end" textLength="28.12" lengthAdjust="spacingAndGlyphs">-25%</text>
<line x1="46.6" y1="313.67" x2="50.6" y2="313.67" stroke="#1c1c1c" stroke-width="1"/>
<text x="43.2" y="317.67" font-size="11.3" text-anchor="end" textLength="28.12" lengthAdjust="spacingAndGlyphs">-50%</text>
<line x1="103.42" y1="314.3" x2="103.42" y2="318.5" stroke="#1c1c1c" stroke-width="1"/>
<text x="103.42" y="330.5" font-size="11.9" text-anchor="middle" textLength="7" lengthAdjust="spacingAndGlyphs">0</text>
<line x1="209.05" y1="314.3" x2="209.05" y2="318.5" stroke="#1c1c1c" stroke-width="1"/>
<text x="209.05" y="330.5" font-size="11.9" text-anchor="middle" textLength="7" lengthAdjust="spacingAndGlyphs">2</text>
<line x1="314.68" y1="314.3" x2="314.68" y2="318.5" stroke="#1c1c1c" stroke-width="1"/>
<text x="314.68" y="330.5" font-size="11.9" text-anchor="middle" textLength="7" lengthAdjust="spacingAndGlyphs">4</text>
<line x1="420.32" y1="314.3" x2="420.32" y2="318.5" stroke="#1c1c1c" stroke-width="1"/>
<text x="420.32" y="330.5" font-size="11.9" text-anchor="middle" textLength="7" lengthAdjust="spacingAndGlyphs">6</text>
<line x1="525.95" y1="314.3" x2="525.95" y2="318.5" stroke="#1c1c1c" stroke-width="1"/>
<text x="525.95" y="330.5" font-size="11.9" text-anchor="middle" textLength="7" lengthAdjust="spacingAndGlyphs">8</text>
<line x1="631.58" y1="314.3" x2="631.58" y2="318.5" stroke="#1c1c1c" stroke-width="1"/>
<text x="631.58" y="330.5" font-size="11.9" text-anchor="middle" textLength="14" lengthAdjust="spacingAndGlyphs">10</text>
<text x="56" y="194.7" font-size="11.2" text-anchor="start" textLength="15.07" lengthAdjust="spacingAndGlyphs">(b)</text>
<text x="684.7" y="241.83" font-size="11.3" text-anchor="end" textLength="32.67" lengthAdjust="spacingAndGlyphs">+20%</text>
<text x="684.7" y="294.17" font-size="11.3" text-anchor="end" textLength="28.42" lengthAdjust="spacingAndGlyphs">-20%</text>
<text transform="translate(8.4 247.75) rotate(-90)" font-size="11.1" text-anchor="middle" textLength="73.6" lengthAdjust="spacingAndGlyphs">Relative error</text>
<line x1="80.78" y1="424.6" x2="80.78" y2="426.4" stroke="#9a9a9a" stroke-width="1.1"/>
<line x1="80.78" y1="443.6" x2="80.78" y2="445.4" stroke="#9a9a9a" stroke-width="1.1"/>
<line x1="77.01" y1="424.6" x2="84.55" y2="424.6" stroke="#636363" stroke-width="0.9"/>
<line x1="77.01" y1="445.4" x2="84.55" y2="445.4" stroke="#636363" stroke-width="0.9"/>
<rect x="73.24" y="426.4" width="15.09" height="17.2" fill="#7daa9b" stroke="#636363" stroke-width="1"/>
<line x1="73.24" y1="434.5" x2="88.33" y2="434.5" stroke="#5a5a5a" stroke-width="1.2" stroke-opacity="0.7"/>
<line x1="74.04" y1="436.1" x2="88.33" y2="436.1" stroke="#5a5a5a" stroke-width="0.8" stroke-dasharray="2 1.3" stroke-opacity="0.5"/>
<path d="M80.78 420.85l1.25 1.75l-1.25 1.75l-1.25 -1.75z" fill="#333"/>
<path d="M80.78 444.25l1.25 1.75l-1.25 1.75l-1.25 -1.75z" fill="#333"/>
<path d="M80.78 451.15l1.25 1.75l-1.25 1.75l-1.25 -1.75z" fill="#333"/>
<line x1="95.87" y1="410.4" x2="95.87" y2="419.6" stroke="#9a9a9a" stroke-width="1.1"/>
<line x1="95.87" y1="431.1" x2="95.87" y2="443.6" stroke="#9a9a9a" stroke-width="1.1"/>
<line x1="92.1" y1="410.4" x2="99.64" y2="410.4" stroke="#636363" stroke-width="0.9"/>
<line x1="92.1" y1="443.6" x2="99.64" y2="443.6" stroke="#636363" stroke-width="0.9"/>
<rect x="88.33" y="419.6" width="15.09" height="11.5" fill="#d8a08a" stroke="#636363" stroke-width="1"/>
<line x1="88.33" y1="430.7" x2="103.42" y2="430.7" stroke="#5a5a5a" stroke-width="1.2" stroke-opacity="0.7"/>
<line x1="89.13" y1="428.3" x2="103.42" y2="428.3" stroke="#5a5a5a" stroke-width="0.8" stroke-dasharray="2 1.3" stroke-opacity="0.5"/>
<path d="M95.87 393.75l1.25 1.75l-1.25 1.75l-1.25 -1.75z" fill="#333"/>
<path d="M95.87 461.75l1.25 1.75l-1.25 1.75l-1.25 -1.75z" fill="#333"/>
<line x1="110.96" y1="403.3" x2="110.96" y2="427.6" stroke="#9a9a9a" stroke-width="1.1"/>
<line x1="110.96" y1="437.4" x2="110.96" y2="457.4" stroke="#9a9a9a" stroke-width="1.1"/>
<line x1="107.19" y1="403.3" x2="114.73" y2="403.3" stroke="#636363" stroke-width="0.9"/>
<line x1="107.19" y1="457.4" x2="114.73" y2="457.4" stroke="#636363" stroke-width="0.9"/>
<rect x="103.42" y="427.6" width="15.09" height="9.8" fill="#9fa8bf" stroke="#636363" stroke-width="1"/>
<line x1="103.42" y1="430.7" x2="118.51" y2="430.7" stroke="#5a5a5a" stroke-width="1.2" stroke-opacity="0.7"/>
<line x1="104.22" y1="428.9" x2="118.51" y2="428.9" stroke="#5a5a5a" stroke-width="0.8" stroke-dasharray="2 1.3" stroke-opacity="0.5"/>
<path d="M110.96 364.65l1.25 1.75l-1.25 1.75l-1.25 -1.75z" fill="#333"/>
<path d="M110.96 464.05l1.25 1.75l-1.25 1.75l-1.25 -1.75z" fill="#333"/>
<line x1="171.32" y1="426.3" x2="171.32" y2="430.1" stroke="#9a9a9a" stroke-width="1.1"/>
<line x1="171.32" y1="442.9" x2="171.32" y2="447.7" stroke="#9a9a9a" stroke-width="1.1"/>
<line x1="167.55" y1="426.3" x2="175.1" y2="426.3" stroke="#636363" stroke-width="0.9"/>
<line x1="167.55" y1="447.7" x2="175.1" y2="447.7" stroke="#636363" stroke-width="0.9"/>
<rect x="163.78" y="430.1" width="15.09" height="12.8" fill="#7daa9b" stroke="#636363" stroke-width="1"/>
<line x1="163.78" y1="430.5" x2="178.87" y2="430.5" stroke="#5a5a5a" stroke-width="1.2" stroke-opacity="0.7"/>
<line x1="164.58" y1="436.6" x2="178.87" y2="436.6" stroke="#5a5a5a" stroke-width="0.8" stroke-dasharray="2 1.3" stroke-opacity="0.5"/>
<path d="M171.32 423.45l1.25 1.75l-1.25 1.75l-1.25 -1.75z" fill="#333"/>
<path d="M171.32 453.55l1.25 1.75l-1.25 1.75l-1.25 -1.75z" fill="#333"/>
<path d="M171.32 471.65l1.25 1.75l-1.25 1.75l-1.25 -1.75z" fill="#333"/>
<line x1="186.41" y1="413.7" x2="186.41" y2="420.6" stroke="#9a9a9a" stroke-width="1.1"/>
<line x1="186.41" y1="431.1" x2="186.41" y2="441" stroke="#9a9a9a" stroke-width="1.1"/>
<line x1="182.64" y1="413.7" x2="190.19" y2="413.7" stroke="#636363" stroke-width="0.9"/>
<line x1="182.64" y1="441" x2="190.19" y2="441" stroke="#636363" stroke-width="0.9"/>
<rect x="178.87" y="420.6" width="15.09" height="10.5" fill="#d8a08a" stroke="#636363" stroke-width="1"/>
<line x1="178.87" y1="429.6" x2="193.96" y2="429.6" stroke="#5a5a5a" stroke-width="1.2" stroke-opacity="0.7"/>
<line x1="179.67" y1="429" x2="193.96" y2="429" stroke="#5a5a5a" stroke-width="0.8" stroke-dasharray="2 1.3" stroke-opacity="0.5"/>
<path d="M186.41 405.55l1.25 1.75l-1.25 1.75l-1.25 -1.75z" fill="#333"/>
<path d="M186.41 403.05l1.25 1.75l-1.25 1.75l-1.25 -1.75z" fill="#333"/>
<path d="M186.41 400.15l1.25 1.75l-1.25 1.75l-1.25 -1.75z" fill="#333"/>
<path d="M186.41 448.35l1.25 1.75l-1.25 1.75l-1.25 -1.75z" fill="#333"/>
<path d="M186.41 472.05l1.25 1.75l-1.25 1.75l-1.25 -1.75z" fill="#333"/>
<line x1="201.5" y1="395.6" x2="201.5" y2="413.7" stroke="#9a9a9a" stroke-width="1.1"/>
<line x1="201.5" y1="431.1" x2="201.5" y2="436.2" stroke="#9a9a9a" stroke-width="1.1"/>
<line x1="197.73" y1="395.6" x2="205.28" y2="395.6" stroke="#636363" stroke-width="0.9"/>
<line x1="197.73" y1="436.2" x2="205.28" y2="436.2" stroke="#636363" stroke-width="0.9"/>
<rect x="193.96" y="413.7" width="15.09" height="17.4" fill="#9fa8bf" stroke="#636363" stroke-width="1"/>
<line x1="193.96" y1="424.4" x2="209.05" y2="424.4" stroke="#5a5a5a" stroke-width="1.2" stroke-opacity="0.7"/>
<line x1="194.76" y1="421" x2="209.05" y2="421" stroke="#5a5a5a" stroke-width="0.8" stroke-dasharray="2 1.3" stroke-opacity="0.5"/>
<path d="M201.5 389.65l1.25 1.75l-1.25 1.75l-1.25 -1.75z" fill="#333"/>
<path d="M201.5 456.75l1.25 1.75l-1.25 1.75l-1.25 -1.75z" fill="#333"/>
<line x1="261.87" y1="429.4" x2="261.87" y2="431.4" stroke="#9a9a9a" stroke-width="1.1"/>
<line x1="261.87" y1="450.5" x2="261.87" y2="471.2" stroke="#9a9a9a" stroke-width="1.1"/>
<line x1="258.09" y1="429.4" x2="265.64" y2="429.4" stroke="#636363" stroke-width="0.9"/>
<line x1="258.09" y1="471.2" x2="265.64" y2="471.2" stroke="#636363" stroke-width="0.9"/>
<rect x="254.32" y="431.4" width="15.09" height="19.1" fill="#7daa9b" stroke="#636363" stroke-width="1"/>
<line x1="254.32" y1="436.9" x2="269.41" y2="436.9" stroke="#5a5a5a" stroke-width="1.2" stroke-opacity="0.7"/>
<line x1="255.12" y1="443.5" x2="269.41" y2="443.5" stroke="#5a5a5a" stroke-width="0.8" stroke-dasharray="2 1.3" stroke-opacity="0.5"/>
<path d="M261.87 424.75l1.25 1.75l-1.25 1.75l-1.25 -1.75z" fill="#333"/>
<path d="M261.87 474.25l1.25 1.75l-1.25 1.75l-1.25 -1.75z" fill="#333"/>
<path d="M261.87 484.35l1.25 1.75l-1.25 1.75l-1.25 -1.75z" fill="#333"/>
<line x1="276.96" y1="422.3" x2="276.96" y2="425.7" stroke="#9a9a9a" stroke-width="1.1"/>
<line x1="276.96" y1="432" x2="276.96" y2="452.6" stroke="#9a9a9a" stroke-width="1.1"/>
<line x1="273.18" y1="422.3" x2="280.73" y2="422.3" stroke="#636363" stroke-width="0.9"/>
<line x1="273.18" y1="452.6" x2="280.73" y2="452.6" stroke="#636363" stroke-width="0.9"/>
<rect x="269.41" y="425.7" width="15.09" height="6.3" fill="#d8a08a" stroke="#636363" stroke-width="1"/>
<line x1="269.41" y1="430.9" x2="284.5" y2="430.9" stroke="#5a5a5a" stroke-width="1.2" stroke-opacity="0.7"/>
<line x1="270.21" y1="431.4" x2="284.5" y2="431.4" stroke="#5a5a5a" stroke-width="0.8" stroke-dasharray="2 1.3" stroke-opacity="0.5"/>
<path d="M276.96 413.15l1.25 1.75l-1.25 1.75l-1.25 -1.75z" fill="#333"/>
<path d="M276.96 411.95l1.25 1.75l-1.25 1.75l-1.25 -1.75z" fill="#333"/>
<path d="M276.96 451.45l1.25 1.75l-1.25 1.75l-1.25 -1.75z" fill="#333"/>
<path d="M276.96 468.25l1.25 1.75l-1.25 1.75l-1.25 -1.75z" fill="#333"/>
<line x1="292.05" y1="407.4" x2="292.05" y2="418.3" stroke="#9a9a9a" stroke-width="1.1"/>
<line x1="292.05" y1="430.9" x2="292.05" y2="437.2" stroke="#9a9a9a" stroke-width="1.1"/>
<line x1="288.27" y1="407.4" x2="295.82" y2="407.4" stroke="#636363" stroke-width="0.9"/>
<line x1="288.27" y1="437.2" x2="295.82" y2="437.2" stroke="#636363" stroke-width="0.9"/>
<rect x="284.5" y="418.3" width="15.09" height="12.6" fill="#9fa8bf" stroke="#636363" stroke-width="1"/>
<line x1="284.5" y1="428.9" x2="299.59" y2="428.9" stroke="#5a5a5a" stroke-width="1.2" stroke-opacity="0.7"/>
<line x1="285.3" y1="423.8" x2="299.59" y2="423.8" stroke="#5a5a5a" stroke-width="0.8" stroke-dasharray="2 1.3" stroke-opacity="0.5"/>
<path d="M292.05 389.55l1.25 1.75l-1.25 1.75l-1.25 -1.75z" fill="#333"/>
<path d="M292.05 375.55l1.25 1.75l-1.25 1.75l-1.25 -1.75z" fill="#333"/>
<path d="M292.05 437.45l1.25 1.75l-1.25 1.75l-1.25 -1.75z" fill="#333"/>
<path d="M292.05 451.65l1.25 1.75l-1.25 1.75l-1.25 -1.75z" fill="#333"/>
<line x1="352.41" y1="429" x2="352.41" y2="431.6" stroke="#9a9a9a" stroke-width="1.1"/>
<line x1="352.41" y1="457" x2="352.41" y2="469.4" stroke="#9a9a9a" stroke-width="1.1"/>
<line x1="348.64" y1="429" x2="356.18" y2="429" stroke="#636363" stroke-width="0.9"/>
<line x1="348.64" y1="469.4" x2="356.18" y2="469.4" stroke="#636363" stroke-width="0.9"/>
<rect x="344.86" y="431.6" width="15.09" height="25.4" fill="#7daa9b" stroke="#636363" stroke-width="1"/>
<line x1="344.86" y1="439.4" x2="359.95" y2="439.4" stroke="#5a5a5a" stroke-width="1.2" stroke-opacity="0.7"/>
<line x1="345.66" y1="445.4" x2="359.95" y2="445.4" stroke="#5a5a5a" stroke-width="0.8" stroke-dasharray="2 1.3" stroke-opacity="0.5"/>
<path d="M352.41 426.25l1.25 1.75l-1.25 1.75l-1.25 -1.75z" fill="#333"/>
<path d="M352.41 477.85l1.25 1.75l-1.25 1.75l-1.25 -1.75z" fill="#333"/>
<line x1="367.5" y1="428.6" x2="367.5" y2="432" stroke="#9a9a9a" stroke-width="1.1"/>
<line x1="367.5" y1="440.6" x2="367.5" y2="453.6" stroke="#9a9a9a" stroke-width="1.1"/>
<line x1="363.73" y1="428.6" x2="371.27" y2="428.6" stroke="#636363" stroke-width="0.9"/>
<line x1="363.73" y1="453.6" x2="371.27" y2="453.6" stroke="#636363" stroke-width="0.9"/>
<rect x="359.95" y="432" width="15.09" height="8.6" fill="#d8a08a" stroke="#636363" stroke-width="1"/>
<line x1="359.95" y1="433" x2="375.05" y2="433" stroke="#5a5a5a" stroke-width="1.2" stroke-opacity="0.7"/>
<line x1="360.75" y1="436.6" x2="375.05" y2="436.6" stroke="#5a5a5a" stroke-width="0.8" stroke-dasharray="2 1.3" stroke-opacity="0.5"/>
<path d="M367.5 425.85l1.25 1.75l-1.25 1.75l-1.25 -1.75z" fill="#333"/>
<path d="M367.5 465.65l1.25 1.75l-1.25 1.75l-1.25 -1.75z" fill="#333"/>
<line x1="382.59" y1="412.4" x2="382.59" y2="421.4" stroke="#9a9a9a" stroke-width="1.1"/>
<line x1="382.59" y1="432.4" x2="382.59" y2="443.6" stroke="#9a9a9a" stroke-width="1.1"/>
<line x1="378.82" y1="412.4" x2="386.36" y2="412.4" stroke="#636363" stroke-width="0.9"/>
<line x1="378.82" y1="443.6" x2="386.36" y2="443.6" stroke="#636363" stroke-width="0.9"/>
<rect x="375.05" y="421.4" width="15.09" height="11" fill="#9fa8bf" stroke="#636363" stroke-width="1"/>
<line x1="375.05" y1="427.4" x2="390.14" y2="427.4" stroke="#5a5a5a" stroke-width="1.2" stroke-opacity="0.7"/>
<line x1="375.85" y1="426" x2="390.14" y2="426" stroke="#5a5a5a" stroke-width="0.8" stroke-dasharray="2 1.3" stroke-opacity="0.5"/>
<path d="M382.59 405.65l1.25 1.75l-1.25 1.75l-1.25 -1.75z" fill="#333"/>
<path d="M382.59 397.65l1.25 1.75l-1.25 1.75l-1.25 -1.75z" fill="#333"/>
<path d="M382.59 443.85l1.25 1.75l-1.25 1.75l-1.25 -1.75z" fill="#333"/>
<path d="M382.59 456.25l1.25 1.75l-1.25 1.75l-1.25 -1.75z" fill="#333"/>
<line x1="442.95" y1="429.4" x2="442.95" y2="432.1" stroke="#9a9a9a" stroke-width="1.1"/>
<line x1="442.95" y1="465.9" x2="442.95" y2="478.6" stroke="#9a9a9a" stroke-width="1.1"/>
<line x1="439.18" y1="429.4" x2="446.72" y2="429.4" stroke="#636363" stroke-width="0.9"/>
<line x1="439.18" y1="478.6" x2="446.72" y2="478.6" stroke="#636363" stroke-width="0.9"/>
<rect x="435.41" y="432.1" width="15.09" height="33.8" fill="#7daa9b" stroke="#636363" stroke-width="1"/>
<line x1="435.41" y1="446.6" x2="450.5" y2="446.6" stroke="#5a5a5a" stroke-width="1.2" stroke-opacity="0.7"/>
<line x1="436.21" y1="447.2" x2="450.5" y2="447.2" stroke="#5a5a5a" stroke-width="0.8" stroke-dasharray="2 1.3" stroke-opacity="0.5"/>
<path d="M442.95 426.75l1.25 1.75l-1.25 1.75l-1.25 -1.75z" fill="#333"/>
<path d="M442.95 481.05l1.25 1.75l-1.25 1.75l-1.25 -1.75z" fill="#333"/>
<line x1="458.04" y1="430.8" x2="458.04" y2="433" stroke="#9a9a9a" stroke-width="1.1"/>
<line x1="458.04" y1="446.2" x2="458.04" y2="456.5" stroke="#9a9a9a" stroke-width="1.1"/>
<line x1="454.27" y1="430.8" x2="461.82" y2="430.8" stroke="#636363" stroke-width="0.9"/>
<line x1="454.27" y1="456.5" x2="461.82" y2="456.5" stroke="#636363" stroke-width="0.9"/>
<rect x="450.5" y="433" width="15.09" height="13.2" fill="#d8a08a" stroke="#636363" stroke-width="1"/>
<line x1="450.5" y1="433.5" x2="465.59" y2="433.5" stroke="#5a5a5a" stroke-width="1.2" stroke-opacity="0.7"/>
<line x1="451.3" y1="439.9" x2="465.59" y2="439.9" stroke="#5a5a5a" stroke-width="0.8" stroke-dasharray="2 1.3" stroke-opacity="0.5"/>
<path d="M458.04 426.35l1.25 1.75l-1.25 1.75l-1.25 -1.75z" fill="#333"/>
<path d="M458.04 456.95l1.25 1.75l-1.25 1.75l-1.25 -1.75z" fill="#333"/>
<path d="M458.04 470.65l1.25 1.75l-1.25 1.75l-1.25 -1.75z" fill="#333"/>
<line x1="473.13" y1="415.8" x2="473.13" y2="425.8" stroke="#9a9a9a" stroke-width="1.1"/>
<line x1="473.13" y1="437.5" x2="473.13" y2="443.9" stroke="#9a9a9a" stroke-width="1.1"/>
<line x1="469.36" y1="415.8" x2="476.91" y2="415.8" stroke="#636363" stroke-width="0.9"/>
<line x1="469.36" y1="443.9" x2="476.91" y2="443.9" stroke="#636363" stroke-width="0.9"/>
<rect x="465.59" y="425.8" width="15.09" height="11.7" fill="#9fa8bf" stroke="#636363" stroke-width="1"/>
<line x1="465.59" y1="431.2" x2="480.68" y2="431.2" stroke="#5a5a5a" stroke-width="1.2" stroke-opacity="0.7"/>
<line x1="466.39" y1="431.5" x2="480.68" y2="431.5" stroke="#5a5a5a" stroke-width="0.8" stroke-dasharray="2 1.3" stroke-opacity="0.5"/>
<path d="M473.13 411.75l1.25 1.75l-1.25 1.75l-1.25 -1.75z" fill="#333"/>
<path d="M473.13 459.25l1.25 1.75l-1.25 1.75l-1.25 -1.75z" fill="#333"/>
<path d="M473.13 460.75l1.25 1.75l-1.25 1.75l-1.25 -1.75z" fill="#333"/>
<line x1="533.5" y1="426.9" x2="533.5" y2="431.7" stroke="#9a9a9a" stroke-width="1.1"/>
<line x1="533.5" y1="470.3" x2="533.5" y2="479.3" stroke="#9a9a9a" stroke-width="1.1"/>
<line x1="529.72" y1="426.9" x2="537.27" y2="426.9" stroke="#636363" stroke-width="0.9"/>
<line x1="529.72" y1="479.3" x2="537.27" y2="479.3" stroke="#636363" stroke-width="0.9"/>
<rect x="525.95" y="431.7" width="15.09" height="38.6" fill="#7daa9b" stroke="#636363" stroke-width="1"/>
<line x1="525.95" y1="449.2" x2="541.04" y2="449.2" stroke="#5a5a5a" stroke-width="1.2" stroke-opacity="0.7"/>
<line x1="526.75" y1="450.3" x2="541.04" y2="450.3" stroke="#5a5a5a" stroke-width="0.8" stroke-dasharray="2 1.3" stroke-opacity="0.5"/>
<path d="M533.5 424.85l1.25 1.75l-1.25 1.75l-1.25 -1.75z" fill="#333"/>
<path d="M533.5 482.35l1.25 1.75l-1.25 1.75l-1.25 -1.75z" fill="#333"/>
<path d="M533.5 484.85l1.25 1.75l-1.25 1.75l-1.25 -1.75z" fill="#333"/>
<line x1="548.59" y1="430.5" x2="548.59" y2="436.4" stroke="#9a9a9a" stroke-width="1.1"/>
<line x1="548.59" y1="454.6" x2="548.59" y2="464.3" stroke="#9a9a9a" stroke-width="1.1"/>
<line x1="544.81" y1="430.5" x2="552.36" y2="430.5" stroke="#636363" stroke-width="0.9"/>
<line x1="544.81" y1="464.3" x2="552.36" y2="464.3" stroke="#636363" stroke-width="0.9"/>
<rect x="541.04" y="436.4" width="15.09" height="18.2" fill="#d8a08a" stroke="#636363" stroke-width="1"/>
<line x1="541.04" y1="443.4" x2="556.13" y2="443.4" stroke="#5a5a5a" stroke-width="1.2" stroke-opacity="0.7"/>
<line x1="541.84" y1="445.1" x2="556.13" y2="445.1" stroke="#5a5a5a" stroke-width="0.8" stroke-dasharray="2 1.3" stroke-opacity="0.5"/>
<path d="M548.59 425.75l1.25 1.75l-1.25 1.75l-1.25 -1.75z" fill="#333"/>
<path d="M548.59 466.05l1.25 1.75l-1.25 1.75l-1.25 -1.75z" fill="#333"/>
<path d="M548.59 469.45l1.25 1.75l-1.25 1.75l-1.25 -1.75z" fill="#333"/>
<line x1="563.68" y1="427.1" x2="563.68" y2="431.7" stroke="#9a9a9a" stroke-width="1.1"/>
<line x1="563.68" y1="441.2" x2="563.68" y2="449.2" stroke="#9a9a9a" stroke-width="1.1"/>
<line x1="559.9" y1="427.1" x2="567.45" y2="427.1" stroke="#636363" stroke-width="0.9"/>
<line x1="559.9" y1="449.2" x2="567.45" y2="449.2" stroke="#636363" stroke-width="0.9"/>
<rect x="556.13" y="431.7" width="15.09" height="9.5" fill="#9fa8bf" stroke="#636363" stroke-width="1"/>
<line x1="556.13" y1="434.3" x2="571.22" y2="434.3" stroke="#5a5a5a" stroke-width="1.2" stroke-opacity="0.7"/>
<line x1="556.93" y1="436.4" x2="571.22" y2="436.4" stroke="#5a5a5a" stroke-width="0.8" stroke-dasharray="2 1.3" stroke-opacity="0.5"/>
<path d="M563.68 422.25l1.25 1.75l-1.25 1.75l-1.25 -1.75z" fill="#333"/>
<path d="M563.68 414.85l1.25 1.75l-1.25 1.75l-1.25 -1.75z" fill="#333"/>
<path d="M563.68 451.95l1.25 1.75l-1.25 1.75l-1.25 -1.75z" fill="#333"/>
<line x1="624.04" y1="421.7" x2="624.04" y2="425.1" stroke="#9a9a9a" stroke-width="1.1"/>
<line x1="624.04" y1="472.7" x2="624.04" y2="481.2" stroke="#9a9a9a" stroke-width="1.1"/>
<line x1="620.27" y1="421.7" x2="627.81" y2="421.7" stroke="#636363" stroke-width="0.9"/>
<line x1="620.27" y1="481.2" x2="627.81" y2="481.2" stroke="#636363" stroke-width="0.9"/>
<rect x="616.49" y="425.1" width="15.09" height="47.6" fill="#7daa9b" stroke="#636363" stroke-width="1"/>
<line x1="616.49" y1="450.2" x2="631.58" y2="450.2" stroke="#5a5a5a" stroke-width="1.2" stroke-opacity="0.7"/>
<line x1="617.29" y1="449.3" x2="631.58" y2="449.3" stroke="#5a5a5a" stroke-width="0.8" stroke-dasharray="2 1.3" stroke-opacity="0.5"/>
<path d="M624.04 417.95l1.25 1.75l-1.25 1.75l-1.25 -1.75z" fill="#333"/>
<path d="M624.04 484.65l1.25 1.75l-1.25 1.75l-1.25 -1.75z" fill="#333"/>
<path d="M624.04 486.55l1.25 1.75l-1.25 1.75l-1.25 -1.75z" fill="#333"/>
<line x1="639.13" y1="425.1" x2="639.13" y2="434.6" stroke="#9a9a9a" stroke-width="1.1"/>
<line x1="639.13" y1="459.3" x2="639.13" y2="468.3" stroke="#9a9a9a" stroke-width="1.1"/>
<line x1="635.36" y1="425.1" x2="642.9" y2="425.1" stroke="#636363" stroke-width="0.9"/>
<line x1="635.36" y1="468.3" x2="642.9" y2="468.3" stroke="#636363" stroke-width="0.9"/>
<rect x="631.58" y="434.6" width="15.09" height="24.7" fill="#d8a08a" stroke="#636363" stroke-width="1"/>
<line x1="631.58" y1="445.4" x2="646.67" y2="445.4" stroke="#5a5a5a" stroke-width="1.2" stroke-opacity="0.7"/>
<line x1="632.38" y1="446.4" x2="646.67" y2="446.4" stroke="#5a5a5a" stroke-width="0.8" stroke-dasharray="2 1.3" stroke-opacity="0.5"/>
<path d="M639.13 421.45l1.25 1.75l-1.25 1.75l-1.25 -1.75z" fill="#333"/>
<path d="M639.13 471.25l1.25 1.75l-1.25 1.75l-1.25 -1.75z" fill="#333"/>
<line x1="654.22" y1="423.2" x2="654.22" y2="430.8" stroke="#9a9a9a" stroke-width="1.1"/>
<line x1="654.22" y1="443.2" x2="654.22" y2="449.3" stroke="#9a9a9a" stroke-width="1.1"/>
<line x1="650.45" y1="423.2" x2="657.99" y2="423.2" stroke="#636363" stroke-width="0.9"/>
<line x1="650.45" y1="449.3" x2="657.99" y2="449.3" stroke="#636363" stroke-width="0.9"/>
<rect x="646.67" y="430.8" width="15.09" height="12.4" fill="#9fa8bf" stroke="#636363" stroke-width="1"/>
<line x1="646.67" y1="434" x2="661.76" y2="434" stroke="#5a5a5a" stroke-width="1.2" stroke-opacity="0.7"/>
<line x1="647.47" y1="436.9" x2="661.76" y2="436.9" stroke="#5a5a5a" stroke-width="0.8" stroke-dasharray="2 1.3" stroke-opacity="0.5"/>
<path d="M654.22 418.95l1.25 1.75l-1.25 1.75l-1.25 -1.75z" fill="#333"/>
<path d="M654.22 452.25l1.25 1.75l-1.25 1.75l-1.25 -1.75z" fill="#333"/>
<path d="M654.22 454.15l1.25 1.75l-1.25 1.75l-1.25 -1.75z" fill="#333"/>
<path d="M654.22 457.45l1.25 1.75l-1.25 1.75l-1.25 -1.75z" fill="#333"/>
<line x1="50.6" y1="431.45" x2="684.4" y2="431.45" stroke="#000" stroke-opacity="0.72" stroke-width="1.2"/>
<line x1="50.6" y1="414.6" x2="684.4" y2="414.6" stroke="#8e9dc0" stroke-width="1.0" stroke-dasharray="1.95 1.042" stroke-dashoffset="0.27"/>
<line x1="50.6" y1="447.9" x2="684.4" y2="447.9" stroke="#8e9dc0" stroke-width="1.0" stroke-dasharray="1.95 1.042" stroke-dashoffset="0.27"/>
<rect x="50.6" y="360.6" width="633.8" height="133.7" fill="none" stroke="#1c1c1c" stroke-width="1.3"/>
<line x1="46.6" y1="390.02" x2="50.6" y2="390.02" stroke="#1c1c1c" stroke-width="1"/>
<text x="43.2" y="394.02" font-size="11.3" text-anchor="end" textLength="24.15" lengthAdjust="spacingAndGlyphs">50%</text>
<line x1="46.6" y1="431.45" x2="50.6" y2="431.45" stroke="#1c1c1c" stroke-width="1"/>
<text x="43.2" y="435.45" font-size="11.3" text-anchor="end" textLength="17.15" lengthAdjust="spacingAndGlyphs">0%</text>
<line x1="46.6" y1="472.88" x2="50.6" y2="472.88" stroke="#1c1c1c" stroke-width="1"/>
<text x="43.2" y="476.88" font-size="11.3" text-anchor="end" textLength="28.12" lengthAdjust="spacingAndGlyphs">-50%</text>
<line x1="95.87" y1="494.3" x2="95.87" y2="498.5" stroke="#1c1c1c" stroke-width="1"/>
<text x="95.87" y="510.5" font-size="11.9" text-anchor="middle" textLength="17.49" lengthAdjust="spacingAndGlyphs">0.1</text>
<line x1="186.41" y1="494.3" x2="186.41" y2="498.5" stroke="#1c1c1c" stroke-width="1"/>
<text x="186.41" y="510.5" font-size="11.9" text-anchor="middle" textLength="17.49" lengthAdjust="spacingAndGlyphs">0.2</text>
<line x1="276.96" y1="494.3" x2="276.96" y2="498.5" stroke="#1c1c1c" stroke-width="1"/>
<text x="276.96" y="510.5" font-size="11.9" text-anchor="middle" textLength="17.49" lengthAdjust="spacingAndGlyphs">0.3</text>
<line x1="367.5" y1="494.3" x2="367.5" y2="498.5" stroke="#1c1c1c" stroke-width="1"/>
<text x="367.5" y="510.5" font-size="11.9" text-anchor="middle" textLength="17.49" lengthAdjust="spacingAndGlyphs">0.4</text>
<line x1="458.04" y1="494.3" x2="458.04" y2="498.5" stroke="#1c1c1c" stroke-width="1"/>
<text x="458.04" y="510.5" font-size="11.9" text-anchor="middle" textLength="17.49" lengthAdjust="spacingAndGlyphs">0.5</text>
<line x1="548.59" y1="494.3" x2="548.59" y2="498.5" stroke="#1c1c1c" stroke-width="1"/>
<text x="548.59" y="510.5" font-size="11.9" text-anchor="middle" textLength="17.49" lengthAdjust="spacingAndGlyphs">0.6</text>
<line x1="639.13" y1="494.3" x2="639.13" y2="498.5" stroke="#1c1c1c" stroke-width="1"/>
<text x="639.13" y="510.5" font-size="11.9" text-anchor="middle" textLength="17.49" lengthAdjust="spacingAndGlyphs">0.7</text>
<text x="55.6" y="374.8" font-size="11.2" text-anchor="start" textLength="14.13" lengthAdjust="spacingAndGlyphs">(c)</text>
<text x="684.7" y="412.58" font-size="11.3" text-anchor="end" textLength="32.67" lengthAdjust="spacingAndGlyphs">+20%</text>
<text x="684.7" y="458.32" font-size="11.3" text-anchor="end" textLength="28.42" lengthAdjust="spacingAndGlyphs">-20%</text>
<text transform="translate(8.4 427.75) rotate(-90)" font-size="11.1" text-anchor="middle" textLength="73.6" lengthAdjust="spacingAndGlyphs">Relative error</text>
<text x="367.6" y="165" font-size="10.6" text-anchor="middle"><tspan font-style="italic">h</tspan><tspan font-size="7.6" dy="1.6">0</tspan><tspan dy="-1.6">/</tspan><tspan font-style="italic">w</tspan></text>
<text x="367.4" y="345.3" font-size="12" text-anchor="middle" font-style="italic" style="font-family:Liberation Serif,serif">x<tspan font-size="8.2" dy="2.2">f</tspan><tspan dy="-2.2" font-style="normal">/</tspan>w</text>
<text x="367.2" y="525.5" font-size="11" text-anchor="middle" font-style="italic" style="font-family:Liberation Serif,serif">&#949;</text>
<rect x="551.3" y="4.3" width="130.2" height="24.2" rx="1.8" fill="#fff" fill-opacity="0.85" stroke="#d0d0d0" stroke-width="1"/>
<text x="582.3" y="13.2" font-size="8.9" text-anchor="start" textLength="65.15" lengthAdjust="spacingAndGlyphs">Shore angle [°]</text>
<rect x="553.4" y="20.2" width="13.4" height="4.6" fill="#7daa9b" stroke="#636363" stroke-width="0.6"/>
<text x="572" y="24.8" font-size="7.7" text-anchor="start" textLength="14.8" lengthAdjust="spacingAndGlyphs">11.3</text>
<rect x="599.2" y="20.2" width="13.4" height="4.6" fill="#d8a08a" stroke="#636363" stroke-width="0.6"/>
<text x="617.8" y="24.8" font-size="7.7" text-anchor="start" textLength="14.8" lengthAdjust="spacingAndGlyphs">22.8</text>
<rect x="645.2" y="20.2" width="13.4" height="4.6" fill="#9fa8bf" stroke="#636363" stroke-width="0.6"/>
<text x="663.8" y="24.8" font-size="7.7" text-anchor="start" textLength="14.8" lengthAdjust="spacingAndGlyphs">33.7</text>
</svg>
</body></html>
